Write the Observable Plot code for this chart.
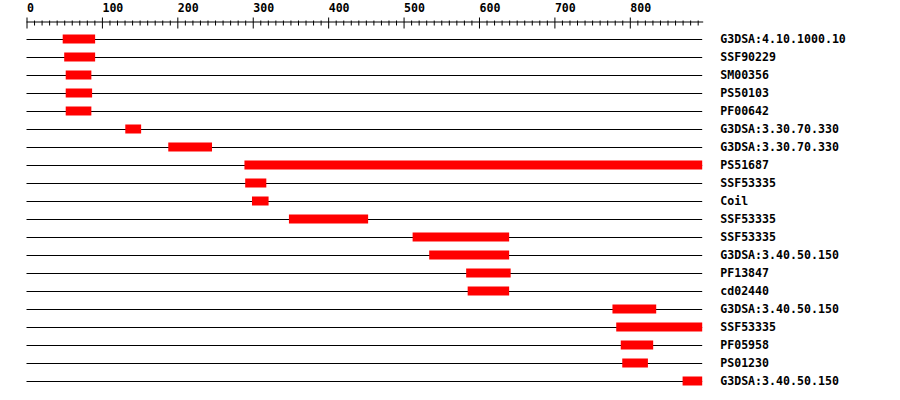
<!DOCTYPE html>
<html>
<head>
<meta charset="utf-8">
<script src="https://cdn.jsdelivr.net/npm/d3@7"></script>
<script src="https://cdn.jsdelivr.net/npm/@observablehq/plot@0.6"></script>
<style>
  html, body { margin: 0; padding: 0; background: #fff; }
</style>
</head>
<body>
<div id="chart"></div>
<script>
const proteinLength = 896;
const labels = ["G3DSA:4.10.1000.10","SSF90229","SM00356","PS50103","PF00642","G3DSA:3.30.70.330","G3DSA:3.30.70.330","PS51687","SSF53335","Coil","SSF53335","SSF53335","G3DSA:3.40.50.150","PF13847","cd02440","G3DSA:3.40.50.150","SSF53335","PF05958","PS01230","G3DSA:3.40.50.150"];
const starts = [48,50,52,52,52,131,188,289,290,299,348,512,534,583,585,777,782,788,790,870];
const ends   = [91,91,86,87,86,152,246,896,318,321,453,640,640,642,640,835,896,831,824,896];
const majorTicks = [0,100,200,300,400,500,600,700,800];
const minorTicks = [10,20,30,40,50,60,70,80,90,110,120,130,140,150,160,170,180,190,210,220,230,240,250,260,270,280,290,310,320,330,340,350,360,370,380,390,410,420,430,440,450,460,470,480,490,510,520,530,540,550,560,570,580,590,610,620,630,640,650,660,670,680,690,710,720,730,740,750,760,770,780,790,810,820,830,840,850,860,870,880,890];

const rows = labels.map((label, i) => ({row: i, label, start: starts[i], end: ends[i]}));
const font = "DejaVu Sans Mono";

const chart = Plot.plot({
  width: 900,
  height: 400,
  marginTop: 21.5,
  marginLeft: 26.5,
  marginRight: 197.8,
  marginBottom: 9,
  style: {background: "#fff", fontFamily: font, fontWeight: "bold", color: "#000"},
  x: {domain: [0, proteinLength], label: null},
  y: {type: "band", domain: rows.map(d => d.row), range: [30, 390], padding: 0, label: null},
  marks: [
    Plot.frame({anchor: "top", stroke: "#000", strokeWidth: 1}),
    Plot.axisX(majorTicks, {anchor: "top", tickSize: 11, dy: 6, fill: "none", stroke: "#000", label: null}),
    Plot.axisX(minorTicks, {anchor: "top", tickSize: 5, dy: 3, fill: "none", stroke: "#000", label: null}),
    Plot.axisX(majorTicks, {anchor: "top", tickSize: 0, tickPadding: 10, textAnchor: "start", fontSize: 11.6, fontWeight: "bold", fill: "#000", fontFamily: font, label: null}),
    Plot.ruleY(rows, {y: "row", x1: 0, x2: proteinLength, stroke: "#000", strokeWidth: 1}),
    Plot.barX(rows, {y: "row", x1: "start", x2: "end", fill: "#ff0000", insetTop: 4.5, insetBottom: 4.5}),
    Plot.axisY({anchor: "right", tickSize: 0, tickPadding: 17.5, tickFormat: i => labels[i], textAnchor: "start", fontSize: 11.6, fontWeight: "bold", fill: "#000", fontFamily: font, label: null})
  ]
});
document.getElementById("chart").append(chart);
</script>
</body>
</html>
